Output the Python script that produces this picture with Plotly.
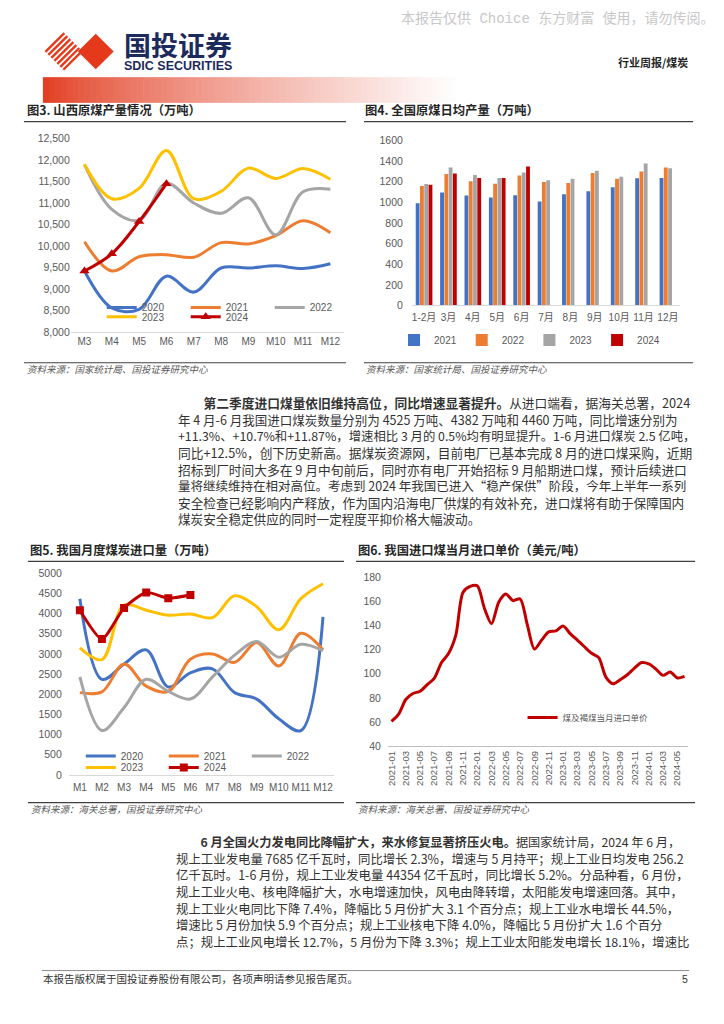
import plotly.graph_objects as go

W, H = 724, 1024


def X(px):
    return px / W


def Y(py):
    return 1 - py / H


# ---------------- data ----------------
# 图3 山西原煤产量情况（万吨）
shanxi_months = ["M3", "M4", "M5", "M6", "M7", "M8", "M9", "M10", "M11", "M12"]
shanxi_2020 = [9420, 8560, 8530, 9300, 8930, 9490, 9490, 9540, 9480, 9590]
shanxi_2021 = [10100, 9420, 9750, 9800, 9740, 10080, 10050, 10240, 10590, 10310]
shanxi_2022 = [11890, 10850, 10600, 11460, 11000, 10760, 11120, 10260, 11260, 11320]
shanxi_2023 = [11900, 11100, 11340, 12220, 11100, 11270, 11810, 11570, 11800, 11550]
shanxi_2024 = [9420, 9820, 10570, 11450]

# 图4 全国原煤日均产量（万吨）
daily_cats = ["1-2月", "3月", "4月", "5月", "6月", "7月", "8月", "9月", "10月", "11月", "12月"]
daily_2021 = [990, 1095, 1066, 1046, 1069, 1008, 1078, 1107, 1146, 1232, 1235]
daily_2022 = [1158, 1274, 1203, 1181, 1261, 1197, 1187, 1283, 1229, 1299, 1338]
daily_2023 = [1178, 1338, 1264, 1235, 1290, 1213, 1229, 1306, 1248, 1376, 1331]
daily_2024 = [1171, 1280, 1235, 1235, 1347]

# 图5 我国月度煤炭进口量（万吨）
import_months = ["M1", "M2", "M3", "M4", "M5", "M6", "M7", "M8", "M9", "M10", "M11", "M12"]
import_2020 = [4370, 2370, 2750, 3100, 2180, 2530, 2630, 2040, 1880, 1390, 1100, 3920]
import_2021 = [2040, 2060, 2750, 2200, 2070, 2870, 3000, 2790, 3280, 2700, 3510, 3100]
import_2022 = [2430, 1100, 1670, 2370, 2070, 1880, 2430, 2970, 3310, 2920, 3240, 3080]
import_2023 = [3150, 2860, 4210, 4085, 3960, 3990, 3900, 4440, 4170, 3600, 4370, 4740]
import_2024 = [4085, 3370, 4140, 4525, 4382, 4460]

# 图6 我国进口煤当月进口单价（美元/吨）
price_months = [f"{yy}-{mm:02d}" for yy in (2021, 2022, 2023, 2024) for mm in range(1, 13)][:42]
price_usd = [60.5, 66.5, 78.7, 83.7, 85.6, 91.0, 96.5, 109.3, 117.0, 132.0, 167.4, 172.4,
             172.9, 154.3, 141.5, 159.3, 166.1, 160.6, 162.0, 140.7, 120.5, 127.9, 134.7, 135.5,
             139.6, 133.3, 127.9, 122.4, 117.0, 113.4, 97.3, 91.8, 95.1, 99.2, 104.7, 109.3,
             108.2, 103.9, 98.7, 101.4, 96.5, 97.8]

# ---------------- styles ----------------
C_BLUE = "#4472C4"
C_ORANGE = "#ED7D31"
C_GRAY = "#A5A5A5"
C_YELLOW = "#FFC000"
C_RED = "#C00000"
SANS = "Liberation Sans, Arial, sans-serif"
CJK = "Noto Sans CJK SC, sans-serif"
TICK = dict(family=SANS + ", Noto Sans CJK SC", size=10, color="#595959")

fig = go.Figure()

# ---- 图3 lines ----
for name, vals, col, leg in [("2020", shanxi_2020, C_BLUE, "legend"),
                             ("2021", shanxi_2021, C_ORANGE, "legend"),
                             ("2022", shanxi_2022, C_GRAY, "legend"),
                             ("2023", shanxi_2023, C_YELLOW, "legend2")]:
    fig.add_trace(go.Scatter(x=shanxi_months[:len(vals)], y=vals, name=name, mode="lines",
                             line=dict(color=col, width=3, shape="spline", smoothing=1),
                             xaxis="x", yaxis="y", legend=leg, hoverinfo="skip"))
fig.add_trace(go.Scatter(x=shanxi_months[:len(shanxi_2024)], y=shanxi_2024, name="2024",
                         mode="lines+markers",
                         line=dict(color=C_RED, width=3, shape="spline", smoothing=1),
                         marker=dict(symbol="triangle-up", size=9, color=C_RED),
                         xaxis="x", yaxis="y", legend="legend2", hoverinfo="skip"))

# ---- 图4 bars ----
for name, vals, col in [("2021", daily_2021, C_BLUE), ("2022", daily_2022, C_ORANGE),
                        ("2023", daily_2023, C_GRAY), ("2024", daily_2024, C_RED)]:
    fig.add_trace(go.Bar(x=daily_cats[:len(vals)], y=vals, name=name, marker=dict(color=col, line=dict(width=0)),
                         xaxis="x2", yaxis="y2", legend="legend3", hoverinfo="skip"))

# ---- 图5 lines ----
for name, vals, col, leg in [("2020", import_2020, C_BLUE, "legend4"),
                             ("2021", import_2021, C_ORANGE, "legend4"),
                             ("2022", import_2022, C_GRAY, "legend4"),
                             ("2023", import_2023, C_YELLOW, "legend5")]:
    fig.add_trace(go.Scatter(x=import_months[:len(vals)], y=vals, name=name, mode="lines",
                             line=dict(color=col, width=3, shape="spline", smoothing=1),
                             xaxis="x3", yaxis="y3", legend=leg, hoverinfo="skip"))
fig.add_trace(go.Scatter(x=import_months[:len(import_2024)], y=import_2024, name="2024",
                         mode="lines+markers",
                         line=dict(color=C_RED, width=3, shape="spline", smoothing=0.6),
                         marker=dict(symbol="square", size=8, color=C_RED),
                         xaxis="x3", yaxis="y3", legend="legend5", hoverinfo="skip"))

# ---- 图6 line ----
fig.add_trace(go.Scatter(x=price_months, y=price_usd, name="煤及褐煤当月进口单价", mode="lines",
                         line=dict(color=C_RED, width=3, shape="spline", smoothing=0.8),
                         xaxis="x4", yaxis="y4", legend="legend6", hoverinfo="skip"))


def xax(dom, anchor, rng, **kw):
    d = dict(domain=[X(dom[0]), X(dom[1])], anchor=anchor, type="category", range=rng,
             showline=True, linecolor="#D9D9D9", linewidth=1, ticks="", showgrid=False,
             zeroline=False, tickfont=TICK, fixedrange=True)
    d.update(kw)
    return d


def yax(dom, anchor, rng, dtick, **kw):
    d = dict(domain=[Y(dom[0]), Y(dom[1])], anchor=anchor, range=rng, dtick=dtick,
             showline=False, ticks="", showgrid=False, zeroline=False,
             tickfont=dict(family=SANS, size=10.5, color="#595959"), fixedrange=True)
    d.update(kw)
    return d


def leg(x, y, xanchor="left", size=10, ew=None, family=SANS):
    d = dict(orientation="h", x=x, y=y, xanchor=xanchor, yanchor="middle",
             bgcolor="rgba(0,0,0,0)", font=dict(family=family, size=size, color="#595959"),
             itemwidth=30, tracegroupgap=0, itemclick=False, itemdoubleclick=False)
    if ew is not None:
        d["entrywidth"] = ew
        d["entrywidthmode"] = "pixels"
    return d


# ---------------- decorations ----------------
shapes = []


def hline(x0, x1, y, color="#404040", width=1.2):
    shapes.append(dict(type="line", xref="paper", yref="paper", x0=X(x0), x1=X(x1), y0=Y(y), y1=Y(y),
                       line=dict(color=color, width=width)))


# header gradient bar
n = 70
gx0, gx1 = 41, 455
for i in range(n):
    t = (i + 0.5) / n
    f = t ** 0.75
    r = int(226 + (255 - 226) * f)
    g = int(58 + (255 - 58) * f)
    b = int(30 + (255 - 30) * f)
    xa = gx0 + (gx1 - gx0) * i / n
    xb = gx0 + (gx1 - gx0) * (i + 1) / n + 0.6
    shapes.append(dict(type="rect", xref="paper", yref="paper", x0=X(xa), x1=X(xb), y0=Y(98), y1=Y(72),
                       fillcolor=f"rgb({r},{g},{b})", line=dict(width=0)))

# logo: striped diamond + solid diamond
LOGO_RED = "#E5391B"
cx, cy, rr = 62, 46, 19
for s in (-18, -12, -6, 0, 6, 12, 18):
    xa = cx + (s - rr) / 2
    ya = cy + (s + rr) / 2
    xb = cx + (s + rr) / 2
    yb = cy + (s - rr) / 2
    shapes.append(dict(type="line", xref="paper", yref="paper", x0=X(xa), y0=Y(ya), x1=X(xb), y1=Y(yb),
                       line=dict(color=LOGO_RED, width=2.4)))
shapes.append(dict(type="path", xref="paper", yref="paper",
                   path=f"M {X(76)},{Y(46)} L {X(94)},{Y(28)} L {X(112)},{Y(46)} L {X(94)},{Y(64)} Z",
                   fillcolor=LOGO_RED, line=dict(width=0)))

# chart frames
hline(22, 345, 117)
hline(22, 345, 361)
hline(363, 693, 117)
hline(363, 693, 361)
hline(26, 343, 562)
hline(26, 343, 806)
hline(355, 695, 562)
hline(355, 695, 806)
# footer
hline(40, 689, 976, color="#8C8C8C", width=1)

# ---------------- text ----------------
ann = []


def txt(x, y, s, size=12.8, color="#333333", family=CJK, xanchor="left", yanchor="middle"):
    ann.append(dict(xref="paper", yref="paper", x=X(x), y=Y(y), text=s, showarrow=False,
                    xanchor=xanchor, yanchor=yanchor, align="left", borderpad=0,
                    font=dict(family=family, size=size, color=color)))


txt(716, 13, "本报告仅供 Choice 东方财富 使用，请勿传阅。", size=14, color="#C8C8C8",
    family="Liberation Mono, Noto Sans CJK SC", xanchor="right")
# logo wordmark: two lines in one text block
txt(121, 18, '<span style="font-size:27px"><b>国投证券</b></span><br>'
             '<span style="font-size:12.5px;font-family:Liberation Sans"><b>SDIC SECURITIES</b></span>',
    size=10.9, color="#1D2A5C", yanchor="top")
txt(689, 56.5, "<b>行业周报/煤炭</b>", size=11, color="#262626", xanchor="right")

TITLE = "#262626"
txt(24, 105.5, "<b>图3. 山西原煤产量情况（万吨）</b>", size=12.3, color=TITLE)
txt(363, 105.5, "<b>图4. 全国原煤日均产量（万吨）</b>", size=12.3, color=TITLE)
txt(27, 550.5, "<b>图5. 我国月度煤炭进口量（万吨）</b>", size=12.3, color=TITLE)
txt(356, 550.5, "<b>图6. 我国进口煤当月进口单价（美元/吨）</b>", size=12.3, color=TITLE)

SRC = "#595959"
txt(24, 367, "<i>资料来源：国家统计局、国投证券研究中心</i>", size=9.5, color=SRC)
txt(364, 367, "<i>资料来源：国家统计局、国投证券研究中心</i>", size=9.5, color=SRC)
txt(28, 813, "<i>资料来源：海关总署，国投证券研究中心</i>", size=9.5, color=SRC)
txt(356, 813, "<i>资料来源：海关总署、国投证券研究中心</i>", size=9.5, color=SRC)

IND = "\u3000\u3000"
para1 = [
    (12.74, IND + "<b>第二季度进口煤量依旧维持高位，同比增速显著提升。</b>从进口端看，据海关总署，2024"),
    (12.53, "年 4 月-6 月我国进口煤炭数量分别为 4525 万吨、4382 万吨和 4460 万吨，同比增速分别为"),
    (12.37, "+11.3%、+10.7%和+11.87%，增速相比 3 月的 0.5%均有明显提升。1-6 月进口煤炭 2.5 亿吨，"),
    (12.72, "同比+12.5%，创下历史新高。据煤炭资源网，目前电厂已基本完成 8 月的进口煤采购，近期"),
    (12.72, "招标到厂时间大多在 9 月中旬前后，同时亦有电厂开始招标 9 月船期进口煤，预计后续进口"),
    (12.5, "量将继续维持在相对高位。考虑到 2024 年我国已进入“稳产保供”阶段，今年上半年一系列"),
    (12.66, "安全检查已经影响内产释放，作为国内沿海电厂供煤的有效补充，进口煤将有助于保障国内"),
    (12.6, "煤炭安全稳定供应的同时一定程度平抑价格大幅波动。"),
]
para2 = [
    (12.22, IND + "<b>6 月全国火力发电同比降幅扩大，来水修复显著挤压火电。</b>据国家统计局，2024 年 6 月，"),
    (12.41, "规上工业发电量 7685 亿千瓦时，同比增长 2.3%，增速与 5 月持平；规上工业日均发电 256.2"),
    (12.44, "亿千瓦时。1-6 月份，规上工业发电量 44354 亿千瓦时，同比增长 5.2%。分品种看，6 月份，"),
    (12.37, "规上工业火电、核电降幅扩大，水电增速加快，风电由降转增，太阳能发电增速回落。其中，"),
    (12.44, "规上工业火电同比下降 7.4%，降幅比 5 月份扩大 3.1 个百分点；规上工业水电增长 44.5%，"),
    (12.41, "增速比 5 月份加快 5.9 个百分点；规上工业核电下降 4.0%，降幅比 5 月份扩大 1.6 个百分"),
    (12.39, "点；规上工业风电增长 12.7%，5 月份为下降 3.3%；规上工业太阳能发电增长 18.1%，增速比"),
]


def para(lines):
    return "<br>".join(f'<span style="font-size:{sz}px">{s}</span>' for sz, s in lines)


txt(175, 459.5, para(para1), size=12.8)
txt(173, 896, para(para2), size=12.84)

txt(40, 984.5, "本报告版权属于国投证券股份有限公司，各项声明请参见报告尾页。", size=10.5, color="#333333")
txt(689, 984.5, "5", size=10.5, color="#333333", family=SANS, xanchor="right")

# ---------------- layout ----------------
fig.update_layout(
    width=W, height=H, margin=dict(l=0, r=0, t=0, b=0),
    paper_bgcolor="white", plot_bgcolor="white",
    barmode="group", bargap=0.3, bargroupgap=0.1,
    xaxis=xax((69, 343), "y", [-0.5, 9.5]),
    yaxis=yax((330, 134), "x", [8000, 12500], 500, tickformat=",d", ticklabelstandoff=0),
    xaxis2=xax((411, 680), "y2", [-0.5, 10.5], ticklabelstandoff=3),
    yaxis2=yax((303, 136), "x2", [0, 1600], 200, tickformat="d", ticklabelstandoff=8),
    xaxis3=xax((67, 333), "y3", [-0.5, 11.5], ticklabelstandoff=3),
    yaxis3=yax((778, 574), "x3", [0, 5000], 500, tickformat="d", ticklabelstandoff=6),
    xaxis4=xax((387, 688), "y4", [-0.5, 41.5], tickangle=-90, linecolor="#BFBFBF",
               tickmode="array", tickvals=price_months[::2], ticktext=price_months[::2],
               tickfont=dict(family=SANS, size=9.5, color="#595959")),
    yaxis4=yax((749, 578), "x4", [40, 180], 20, tickformat="d", ticklabelstandoff=6),
    legend=leg(X(100), Y(305), ew=39),
    legend2=leg(X(100), Y(314.5), ew=39),
    legend3=leg(X(529), Y(338), xanchor="center"),
    legend4=leg(X(79), Y(759), ew=38),
    legend5=leg(X(79), Y(770.5), ew=38),
    legend6=leg(X(522), Y(720), size=8.5, family=CJK),
    shapes=shapes, annotations=ann, showlegend=True,
)

fig.write_html("out.html", config={"displayModeBar": False, "staticPlot": True},
               post_script="document.body.style.margin='0';")
